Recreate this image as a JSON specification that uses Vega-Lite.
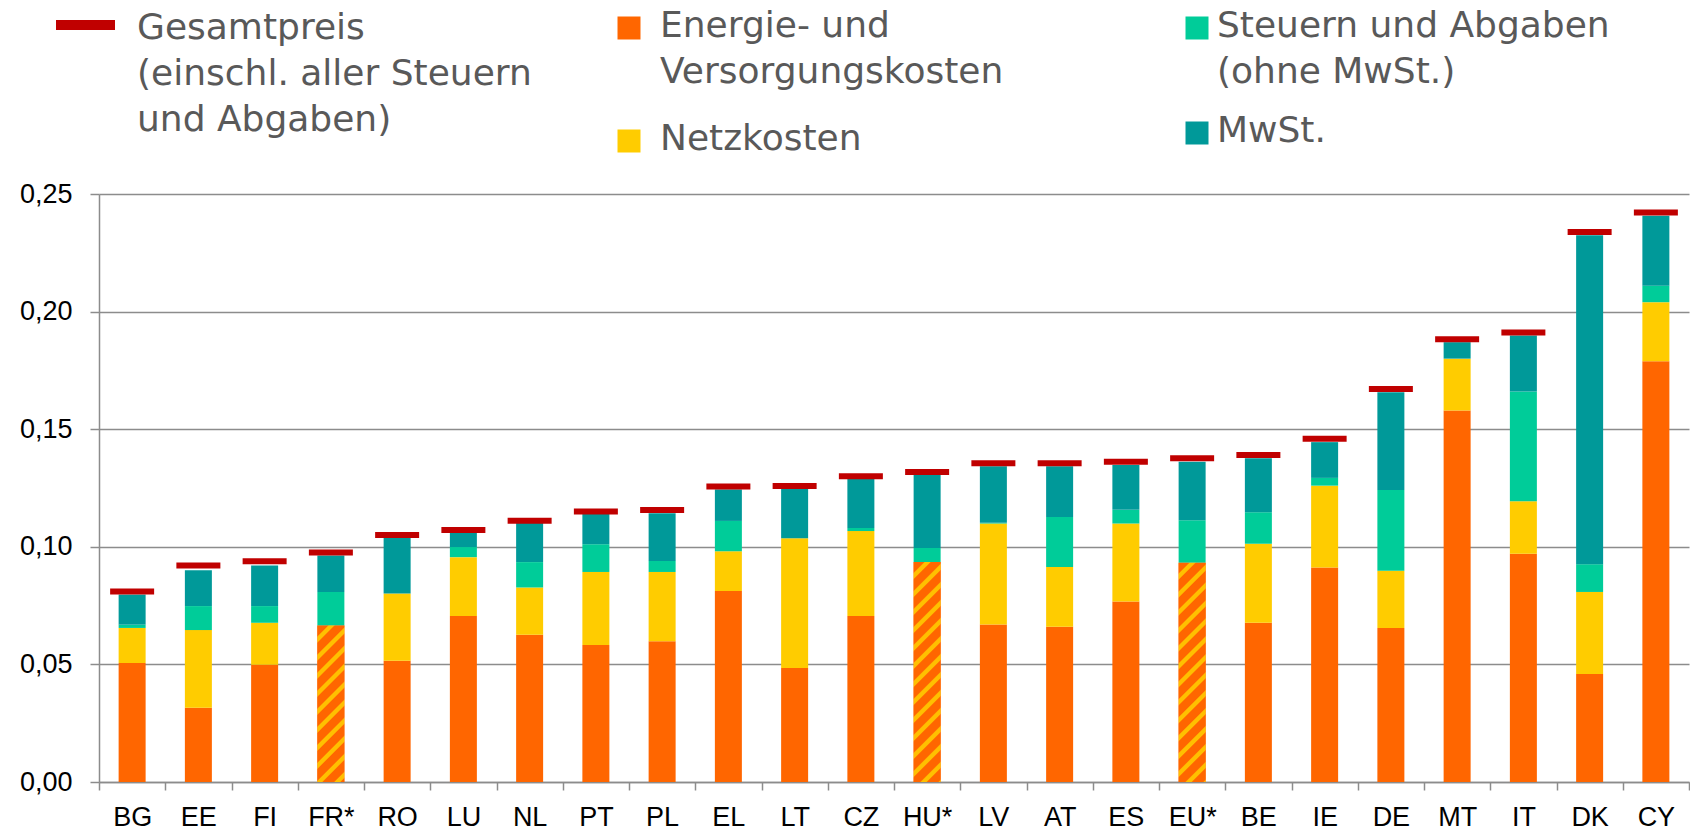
{
  "$schema": "https://vega.github.io/schema/vega-lite/v6.json",
  "width": 1590,
  "height": 588,
  "autosize": "none",
  "padding": {"left": 99, "top": 194, "right": 1, "bottom": 48},
  "background": "white",
  "config": {
    "view": {"stroke": null},
    "legend": {"padding": 0, "titlePadding": 0}
  },
  "datasets": {
    "parts": [
      {"c":"BG","k":"E","o":1,"v":0.0506},{"c":"BG","k":"N","o":2,"v":0.0149},{"c":"BG","k":"S","o":3,"v":0.0014},{"c":"BG","k":"M","o":4,"v":0.0128},
      {"c":"EE","k":"E","o":1,"v":0.0316},{"c":"EE","k":"N","o":2,"v":0.0330},{"c":"EE","k":"S","o":3,"v":0.0102},{"c":"EE","k":"M","o":4,"v":0.0152},
      {"c":"FI","k":"E","o":1,"v":0.0498},{"c":"FI","k":"N","o":2,"v":0.0179},{"c":"FI","k":"S","o":3,"v":0.0071},{"c":"FI","k":"M","o":4,"v":0.0173},
      {"c":"FR*","k":"E","o":1,"v":0.0665,"h":1},{"c":"FR*","k":"N","o":2,"v":0},{"c":"FR*","k":"S","o":3,"v":0.0143},{"c":"FR*","k":"M","o":4,"v":0.0155},
      {"c":"RO","k":"E","o":1,"v":0.0515},{"c":"RO","k":"N","o":2,"v":0.0286},{"c":"RO","k":"S","o":3,"v":0},{"c":"RO","k":"M","o":4,"v":0.0236},
      {"c":"LU","k":"E","o":1,"v":0.0706},{"c":"LU","k":"N","o":2,"v":0.0250},{"c":"LU","k":"S","o":3,"v":0.0043},{"c":"LU","k":"M","o":4,"v":0.0060},
      {"c":"NL","k":"E","o":1,"v":0.0626},{"c":"NL","k":"N","o":2,"v":0.0201},{"c":"NL","k":"S","o":3,"v":0.0108},{"c":"NL","k":"M","o":4,"v":0.0166},
      {"c":"PT","k":"E","o":1,"v":0.0582},{"c":"PT","k":"N","o":2,"v":0.0311},{"c":"PT","k":"S","o":3,"v":0.0118},{"c":"PT","k":"M","o":4,"v":0.0129},
      {"c":"PL","k":"E","o":1,"v":0.0598},{"c":"PL","k":"N","o":2,"v":0.0295},{"c":"PL","k":"S","o":3,"v":0.0047},{"c":"PL","k":"M","o":4,"v":0.0203},
      {"c":"EL","k":"E","o":1,"v":0.0812},{"c":"EL","k":"N","o":2,"v":0.0169},{"c":"EL","k":"S","o":3,"v":0.0129},{"c":"EL","k":"M","o":4,"v":0.0134},
      {"c":"LT","k":"E","o":1,"v":0.0485},{"c":"LT","k":"N","o":2,"v":0.0551},{"c":"LT","k":"S","o":3,"v":0},{"c":"LT","k":"M","o":4,"v":0.0210},
      {"c":"CZ","k":"E","o":1,"v":0.0706},{"c":"CZ","k":"N","o":2,"v":0.0361},{"c":"CZ","k":"S","o":3,"v":0.0013},{"c":"CZ","k":"M","o":4,"v":0.0208},
      {"c":"HU*","k":"E","o":1,"v":0.0935,"h":1},{"c":"HU*","k":"N","o":2,"v":0},{"c":"HU*","k":"S","o":3,"v":0.0060},{"c":"HU*","k":"M","o":4,"v":0.0311},
      {"c":"LV","k":"E","o":1,"v":0.0670},{"c":"LV","k":"N","o":2,"v":0.0429},{"c":"LV","k":"S","o":3,"v":0.0003},{"c":"LV","k":"M","o":4,"v":0.0241},
      {"c":"AT","k":"E","o":1,"v":0.0660},{"c":"AT","k":"N","o":2,"v":0.0254},{"c":"AT","k":"S","o":3,"v":0.0213},{"c":"AT","k":"M","o":4,"v":0.0216},
      {"c":"ES","k":"E","o":1,"v":0.0767},{"c":"ES","k":"N","o":2,"v":0.0332},{"c":"ES","k":"S","o":3,"v":0.0058},{"c":"ES","k":"M","o":4,"v":0.0191},
      {"c":"EU*","k":"E","o":1,"v":0.0932,"h":1},{"c":"EU*","k":"N","o":2,"v":0},{"c":"EU*","k":"S","o":3,"v":0.0181},{"c":"EU*","k":"M","o":4,"v":0.0249},
      {"c":"BE","k":"E","o":1,"v":0.0677},{"c":"BE","k":"N","o":2,"v":0.0336},{"c":"BE","k":"S","o":3,"v":0.0134},{"c":"BE","k":"M","o":4,"v":0.0229},
      {"c":"IE","k":"E","o":1,"v":0.0912},{"c":"IE","k":"N","o":2,"v":0.0348},{"c":"IE","k":"S","o":3,"v":0.0033},{"c":"IE","k":"M","o":4,"v":0.0152},
      {"c":"DE","k":"E","o":1,"v":0.0655},{"c":"DE","k":"N","o":2,"v":0.0243},{"c":"DE","k":"S","o":3,"v":0.0344},{"c":"DE","k":"M","o":4,"v":0.0415},
      {"c":"MT","k":"E","o":1,"v":0.1579},{"c":"MT","k":"N","o":2,"v":0.0221},{"c":"MT","k":"S","o":3,"v":0},{"c":"MT","k":"M","o":4,"v":0.0070},
      {"c":"IT","k":"E","o":1,"v":0.0970},{"c":"IT","k":"N","o":2,"v":0.0224},{"c":"IT","k":"S","o":3,"v":0.0466},{"c":"IT","k":"M","o":4,"v":0.0238},
      {"c":"DK","k":"E","o":1,"v":0.0459},{"c":"DK","k":"N","o":2,"v":0.0349},{"c":"DK","k":"S","o":3,"v":0.0118},{"c":"DK","k":"M","o":4,"v":0.1399},
      {"c":"CY","k":"E","o":1,"v":0.1789},{"c":"CY","k":"N","o":2,"v":0.0251},{"c":"CY","k":"S","o":3,"v":0.0070},{"c":"CY","k":"M","o":4,"v":0.0298}
    ],
    "totals": [
      {"c":"BG","t":0.0810},{"c":"EE","t":0.0920},{"c":"FI","t":0.0939},{"c":"FR*","t":0.0976},
      {"c":"RO","t":0.1050},{"c":"LU","t":0.1071},{"c":"NL","t":0.1111},{"c":"PT","t":0.1150},
      {"c":"PL","t":0.1156},{"c":"EL","t":0.1256},{"c":"LT","t":0.1258},{"c":"CZ","t":0.1300},
      {"c":"HU*","t":0.1318},{"c":"LV","t":0.1355},{"c":"AT","t":0.1355},{"c":"ES","t":0.1362},
      {"c":"EU*","t":0.1376},{"c":"BE","t":0.1390},{"c":"IE","t":0.1459},{"c":"DE","t":0.1671},
      {"c":"MT","t":0.1882},{"c":"IT","t":0.1911},{"c":"DK","t":0.2338},{"c":"CY","t":0.2421}
    ]
  },
  "layer": [
    {
      "data": {"name": "parts"},
      "transform": [
        {"stack": "v", "groupby": ["c"], "sort": [{"field": "o", "order": "ascending"}], "as": ["y0", "y1"]},
        {"filter": "datum.o <= 2"}
      ],
      "mark": {"type": "bar", "width": 27},
      "encoding": {
        "x": {
          "field": "c", "type": "nominal",
          "scale": {"domain": ["BG","EE","FI","FR*","RO","LU","NL","PT","PL","EL","LT","CZ","HU*","LV","AT","ES","EU*","BE","IE","DE","MT","IT","DK","CY"], "paddingInner": 0, "paddingOuter": 0},
          "axis": {
            "title": null, "labelAngle": 0, "labelFont": "Liberation Sans", "labelFontSize": 27, "labelColor": "#000000",
            "labelPadding": 14, "tickBand": "extent", "tickSize": 8, "tickColor": "#8C8C8C", "tickWidth": 1.5,
            "domainColor": "#8C8C8C", "domainWidth": 1.5, "grid": false
          }
        },
        "y": {
          "field": "y0", "type": "quantitative",
          "scale": {"domain": [0, 0.25], "nice": false},
          "axis": {
            "title": null, "values": [0, 0.05, 0.1, 0.15, 0.2, 0.25],
            "labelExpr": "replace(format(datum.value, '.2f'), '.', ',')",
            "labelFont": "Liberation Sans", "labelFontSize": 27, "labelColor": "#000000", "labelPadding": 18,
            "tickSize": 9, "tickColor": "#8C8C8C", "tickWidth": 1.5,
            "domainColor": "#8C8C8C", "domainWidth": 1.5,
            "grid": true, "gridColor": "#8C8C8C", "gridWidth": 1.5
          }
        },
        "y2": {"field": "y1"},
        "color": {
          "field": "k", "type": "nominal",
          "scale": {"domain": ["E", "N"], "range": ["#FF6600", "#FFCC00"]},
          "legend": {
            "title": null, "orient": "none", "legendX": 512, "legendY": -184,
            "direction": "vertical", "symbolType": "square", "symbolSize": 529, "symbolStrokeWidth": 0,
            "labelExpr": "datum.label == 'E' ? ['Energie- und', 'Versorgungskosten'] : 'Netzkosten'",
            "labelFont": "DejaVu Sans", "labelFontSize": 36, "labelColor": "#595959",
            "labelOffset": 13, "labelLimit": 0, "rowPadding": 31, "labelBaseline": "top",
            "encode": {"labels": {"update": {"dy": {"value": -19}, "lineHeight": {"value": 46}}}}
          }
        }
      }
    },
    {
      "data": {"name": "parts"},
      "transform": [
        {"stack": "v", "groupby": ["c"], "sort": [{"field": "o", "order": "ascending"}], "as": ["y0", "y1"]},
        {"filter": "datum.o >= 3"}
      ],
      "mark": {"type": "bar", "width": 27},
      "encoding": {
        "x": {"field": "c", "type": "nominal"},
        "y": {"field": "y0", "type": "quantitative"},
        "y2": {"field": "y1"},
        "color": {
          "field": "k", "type": "nominal",
          "scale": {"domain": ["S", "M"], "range": ["#00CC99", "#009999"]},
          "legend": {
            "title": null, "orient": "none", "legendX": 1080, "legendY": -184,
            "direction": "vertical", "symbolType": "square", "symbolSize": 529, "symbolStrokeWidth": 0,
            "labelExpr": "datum.label == 'S' ? ['Steuern und Abgaben', '(ohne MwSt.)'] : 'MwSt.'",
            "labelFont": "DejaVu Sans", "labelFontSize": 36, "labelColor": "#595959",
            "labelOffset": 2, "labelLimit": 0, "rowPadding": 23, "labelBaseline": "top",
            "encode": {"labels": {"update": {"dy": {"value": -19}, "lineHeight": {"value": 46}}}}
          }
        }
      }
    },
    {
      "data": {"name": "parts"},
      "transform": [
        {"stack": "v", "groupby": ["c"], "sort": [{"field": "o", "order": "ascending"}], "as": ["y0", "y1"]},
        {"filter": "datum.h == 1 && datum.c != 'FR*'"}
      ],
      "mark": {
        "type": "bar", "width": 27,
        "fill": {
          "gradient": "linear", "x1": 0, "y1": 0, "x2": 0.1357, "y2": 1.106,
          "stops": [
            {"offset": 0, "color": "#FF6600"},
            {"offset": 0.0408, "color": "#FF6600"},{"offset": 0.0467, "color": "#FFC000"},{"offset": 0.0656, "color": "#FFC000"},{"offset": 0.0714, "color": "#FF6600"},
            {"offset": 0.1137, "color": "#FF6600"},{"offset": 0.1196, "color": "#FFC000"},{"offset": 0.1385, "color": "#FFC000"},{"offset": 0.1443, "color": "#FF6600"},
            {"offset": 0.1866, "color": "#FF6600"},{"offset": 0.1925, "color": "#FFC000"},{"offset": 0.2114, "color": "#FFC000"},{"offset": 0.2172, "color": "#FF6600"},
            {"offset": 0.2595, "color": "#FF6600"},{"offset": 0.2654, "color": "#FFC000"},{"offset": 0.2843, "color": "#FFC000"},{"offset": 0.2901, "color": "#FF6600"},
            {"offset": 0.3324, "color": "#FF6600"},{"offset": 0.3383, "color": "#FFC000"},{"offset": 0.3572, "color": "#FFC000"},{"offset": 0.3630, "color": "#FF6600"},
            {"offset": 0.4053, "color": "#FF6600"},{"offset": 0.4112, "color": "#FFC000"},{"offset": 0.4301, "color": "#FFC000"},{"offset": 0.4359, "color": "#FF6600"},
            {"offset": 0.4782, "color": "#FF6600"},{"offset": 0.4841, "color": "#FFC000"},{"offset": 0.5030, "color": "#FFC000"},{"offset": 0.5088, "color": "#FF6600"},
            {"offset": 0.5511, "color": "#FF6600"},{"offset": 0.5570, "color": "#FFC000"},{"offset": 0.5759, "color": "#FFC000"},{"offset": 0.5817, "color": "#FF6600"},
            {"offset": 0.6240, "color": "#FF6600"},{"offset": 0.6299, "color": "#FFC000"},{"offset": 0.6488, "color": "#FFC000"},{"offset": 0.6546, "color": "#FF6600"},
            {"offset": 0.6969, "color": "#FF6600"},{"offset": 0.7028, "color": "#FFC000"},{"offset": 0.7217, "color": "#FFC000"},{"offset": 0.7275, "color": "#FF6600"},
            {"offset": 0.7698, "color": "#FF6600"},{"offset": 0.7757, "color": "#FFC000"},{"offset": 0.7946, "color": "#FFC000"},{"offset": 0.8004, "color": "#FF6600"},
            {"offset": 0.8427, "color": "#FF6600"},{"offset": 0.8486, "color": "#FFC000"},{"offset": 0.8675, "color": "#FFC000"},{"offset": 0.8733, "color": "#FF6600"},
            {"offset": 0.9156, "color": "#FF6600"},{"offset": 0.9215, "color": "#FFC000"},{"offset": 0.9404, "color": "#FFC000"},{"offset": 0.9462, "color": "#FF6600"},
            {"offset": 0.9885, "color": "#FF6600"},{"offset": 0.9944, "color": "#FFC000"},{"offset": 1, "color": "#FFC000"}
          ]
        }
      },
      "encoding": {
        "x": {"field": "c", "type": "nominal"},
        "y": {"field": "y0", "type": "quantitative"},
        "y2": {"field": "y1"}
      }
    },
    {
      "data": {"name": "parts"},
      "transform": [
        {"stack": "v", "groupby": ["c"], "sort": [{"field": "o", "order": "ascending"}], "as": ["y0", "y1"]},
        {"filter": "datum.h == 1 && datum.c == 'FR*'"}
      ],
      "mark": {
        "type": "bar", "width": 27,
        "fill": {
          "gradient": "linear", "x1": 0, "y1": 0, "x2": 0.197, "y2": 1.139,
          "stops": [
            {"offset": 0, "color": "#FF6600"},
            {"offset": 0.0551, "color": "#FF6600"},{"offset": 0.0630, "color": "#FFC000"},{"offset": 0.0886, "color": "#FFC000"},{"offset": 0.0964, "color": "#FF6600"},
            {"offset": 0.1535, "color": "#FF6600"},{"offset": 0.1614, "color": "#FFC000"},{"offset": 0.1870, "color": "#FFC000"},{"offset": 0.1948, "color": "#FF6600"},
            {"offset": 0.2519, "color": "#FF6600"},{"offset": 0.2598, "color": "#FFC000"},{"offset": 0.2854, "color": "#FFC000"},{"offset": 0.2932, "color": "#FF6600"},
            {"offset": 0.3503, "color": "#FF6600"},{"offset": 0.3582, "color": "#FFC000"},{"offset": 0.3838, "color": "#FFC000"},{"offset": 0.3916, "color": "#FF6600"},
            {"offset": 0.4487, "color": "#FF6600"},{"offset": 0.4566, "color": "#FFC000"},{"offset": 0.4822, "color": "#FFC000"},{"offset": 0.4900, "color": "#FF6600"},
            {"offset": 0.5471, "color": "#FF6600"},{"offset": 0.5550, "color": "#FFC000"},{"offset": 0.5806, "color": "#FFC000"},{"offset": 0.5884, "color": "#FF6600"},
            {"offset": 0.6455, "color": "#FF6600"},{"offset": 0.6534, "color": "#FFC000"},{"offset": 0.6790, "color": "#FFC000"},{"offset": 0.6868, "color": "#FF6600"},
            {"offset": 0.7439, "color": "#FF6600"},{"offset": 0.7518, "color": "#FFC000"},{"offset": 0.7774, "color": "#FFC000"},{"offset": 0.7852, "color": "#FF6600"},
            {"offset": 0.8423, "color": "#FF6600"},{"offset": 0.8502, "color": "#FFC000"},{"offset": 0.8758, "color": "#FFC000"},{"offset": 0.8836, "color": "#FF6600"},
            {"offset": 0.9407, "color": "#FF6600"},{"offset": 0.9486, "color": "#FFC000"},{"offset": 0.9742, "color": "#FFC000"},{"offset": 0.9820, "color": "#FF6600"},
            {"offset": 1, "color": "#FF6600"}
          ]
        }
      },
      "encoding": {
        "x": {"field": "c", "type": "nominal"},
        "y": {"field": "y0", "type": "quantitative"},
        "y2": {"field": "y1"}
      }
    },
    {
      "data": {"name": "totals"},
      "mark": {"type": "tick", "thickness": 6, "size": 44, "opacity": 1},
      "encoding": {
        "x": {"field": "c", "type": "nominal"},
        "y": {"field": "t", "type": "quantitative"},
        "color": {
          "datum": "G",
          "scale": {"domain": ["G"], "range": ["#C00000"]},
          "legend": {
            "title": null, "orient": "none", "legendX": -43, "legendY": -198.5,
            "symbolType": "M-1,-0.17H1V0.17H-1Z", "symbolSize": 3481, "symbolStrokeWidth": 0, "symbolOpacity": 1,
            "labelExpr": "['Gesamtpreis', '(einschl. aller Steuern', 'und Abgaben)']",
            "labelFont": "DejaVu Sans", "labelFontSize": 36, "labelColor": "#595959",
            "labelOffset": 22, "labelLimit": 0, "labelBaseline": "top",
            "encode": {"labels": {"update": {"dy": {"value": -14}, "lineHeight": {"value": 46}}}}
          }
        }
      }
    }
  ],
  "resolve": {"scale": {"color": "independent"}}
}
